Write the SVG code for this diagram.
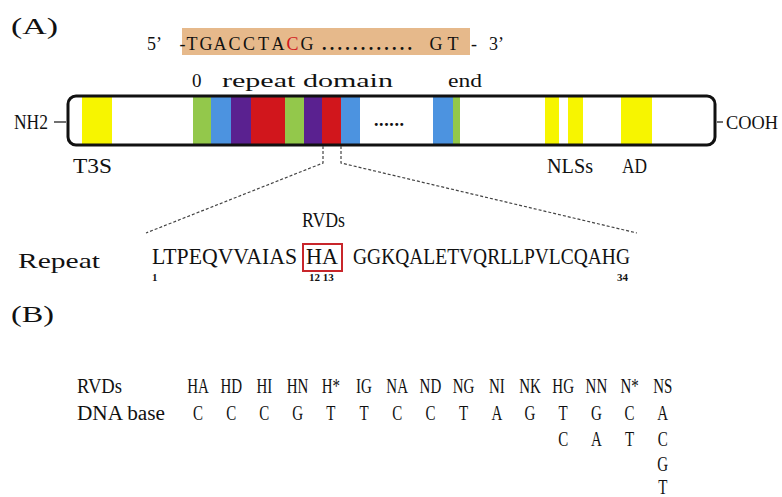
<svg xmlns="http://www.w3.org/2000/svg" width="782" height="497" viewBox="0 0 782 497" font-family="'Liberation Serif','Times New Roman',serif">
<style>
text{font-family:"Liberation Serif","Times New Roman",serif;fill:#111}
.lbl{font-size:21px}
.seq{font-size:18px}
.tb{font-size:20px;text-anchor:middle}
.num{font-size:11px;font-weight:bold}
.dash{fill:none;stroke:#444;stroke-width:1.2;stroke-dasharray:3 2}
.tick{fill:none;stroke:#222;stroke-width:1.3}
.Y{fill:#F7F500}.G{fill:#93C84B}.B{fill:#4C93E0}.P{fill:#5A2190}.R{fill:#D1161C}
</style>
<g id="label-A"><text x="11" y="34" font-size="24" textLength="47" lengthAdjust="spacingAndGlyphs">(A)</text></g>
<g id="dna-seq">
<rect x="182" y="28" width="288" height="27" fill="#E6B98B"/>
<text class="seq" x="147" y="50">5’</text>
<text class="seq" y="50" text-anchor="middle"><tspan x="182.5">-</tspan><tspan x="192">T</tspan><tspan x="206">G</tspan><tspan x="220">A</tspan><tspan x="234.5">C</tspan><tspan x="249">C</tspan><tspan x="263.5">T</tspan><tspan x="278">A</tspan><tspan x="292.5" fill="#D1161C">C</tspan><tspan x="307">G</tspan><tspan x="436">G</tspan><tspan x="453">T</tspan><tspan x="474">-</tspan></text>
<text class="seq" x="322" y="50" font-weight="bold" textLength="90" lengthAdjust="spacing">............</text>
<text class="seq" x="489" y="50">3’</text>
</g>
<g id="domain-labels">
<text x="192" y="87" font-size="19">0</text>
<text x="222" y="87" font-size="19" textLength="171" lengthAdjust="spacingAndGlyphs">repeat domain</text>
<text x="448" y="87" font-size="19" textLength="34" lengthAdjust="spacingAndGlyphs">end</text>
</g>
<g id="protein">
<rect class="Y" x="82" y="96" width="30" height="49"/>
<rect class="G" x="193" y="96" width="18" height="49"/>
<rect class="B" x="211" y="96" width="20" height="49"/>
<rect class="P" x="231" y="96" width="20" height="49"/>
<rect class="R" x="251" y="96" width="34" height="49"/>
<rect class="G" x="285" y="96" width="19" height="49"/>
<rect class="P" x="304" y="96" width="18" height="49"/>
<rect class="R" x="322" y="96" width="19" height="49"/>
<rect class="B" x="341" y="96" width="19" height="49"/>
<rect class="B" x="433" y="96" width="20" height="49"/>
<rect class="G" x="453" y="96" width="7" height="49"/>
<rect class="Y" x="545" y="96" width="14" height="49"/>
<rect class="Y" x="568" y="96" width="15" height="49"/>
<rect class="Y" x="621" y="96" width="31" height="49"/>
<rect x="68" y="96" width="647" height="49" rx="8" fill="none" stroke="#111" stroke-width="3"/>
<text x="374" y="126" font-size="18" font-weight="bold" letter-spacing="0.6">......</text>
<text class="lbl" x="14" y="129" textLength="34" lengthAdjust="spacingAndGlyphs">NH2</text>
<text x="726" y="129" font-size="18.5" textLength="52" lengthAdjust="spacingAndGlyphs">COOH</text>
<text class="lbl" x="73" y="173" textLength="39" lengthAdjust="spacingAndGlyphs">T3S</text>
<text class="lbl" x="547" y="173" textLength="46" lengthAdjust="spacingAndGlyphs">NLSs</text>
<text class="lbl" x="622" y="173" textLength="25" lengthAdjust="spacingAndGlyphs">AD</text>
</g>
<g id="connectors">
<line class="tick" x1="54" y1="122" x2="66" y2="122"/>
<line class="tick" x1="717" y1="122" x2="723" y2="122"/>
<polyline class="dash" points="323,146 323,163 146,233"/>
<polyline class="dash" points="341,146 341,163 637,233"/>
</g>
<g id="repeat">
<text x="18" y="268" font-size="22" textLength="82" lengthAdjust="spacingAndGlyphs">Repeat</text>
<text x="302" y="227" font-size="20" textLength="43" lengthAdjust="spacingAndGlyphs">RVDs</text>
<text x="152" y="264" font-size="23" textLength="145" lengthAdjust="spacingAndGlyphs">LTPEQVVAIAS</text>
<rect x="303" y="244" width="39" height="27" fill="none" stroke="#C8262B" stroke-width="2"/>
<text x="306" y="264" font-size="23" textLength="32" lengthAdjust="spacingAndGlyphs">HA</text>
<text x="353" y="264" font-size="23" textLength="277" lengthAdjust="spacingAndGlyphs">GGKQALETVQRLLPVLCQAHG</text>
<text class="num" x="152" y="281">1</text>
<text class="num" x="309" y="281">12 13</text>
<text class="num" x="617" y="281">34</text>
</g>
<g id="label-B"><text x="11" y="322" font-size="24" textLength="43" lengthAdjust="spacingAndGlyphs">(B)</text></g>
<g id="table">
<text x="77" y="393" font-size="20" textLength="45" lengthAdjust="spacingAndGlyphs">RVDs</text>
<text x="77" y="420" font-size="20" textLength="88" lengthAdjust="spacingAndGlyphs">DNA base</text>
<g transform="scale(0.75 1)">
<text class="tb" y="393"><tspan x="264">HA</tspan><tspan x="308.3">HD</tspan><tspan x="352.5">HI</tspan><tspan x="396.8">HN</tspan><tspan x="441.1">H*</tspan><tspan x="485.3">IG</tspan><tspan x="529.6">NA</tspan><tspan x="573.9">ND</tspan><tspan x="618.1">NG</tspan><tspan x="662.4">NI</tspan><tspan x="706.7">NK</tspan><tspan x="750.9">HG</tspan><tspan x="795.2">NN</tspan><tspan x="839.5">N*</tspan><tspan x="883.7">NS</tspan></text>
<text class="tb" y="420"><tspan x="264">C</tspan><tspan x="308.3">C</tspan><tspan x="352.5">C</tspan><tspan x="396.8">G</tspan><tspan x="441.1">T</tspan><tspan x="485.3">T</tspan><tspan x="529.6">C</tspan><tspan x="573.9">C</tspan><tspan x="618.1">T</tspan><tspan x="662.4">A</tspan><tspan x="706.7">G</tspan><tspan x="750.9">T</tspan><tspan x="795.2">G</tspan><tspan x="839.5">C</tspan><tspan x="883.7">A</tspan></text>
<text class="tb" y="446"><tspan x="750.9">C</tspan><tspan x="795.2">A</tspan><tspan x="839.5">T</tspan><tspan x="883.7">C</tspan></text>
<text class="tb" y="471"><tspan x="883.7">G</tspan></text>
<text class="tb" y="494"><tspan x="883.7">T</tspan></text>
</g>
</g>
</svg>
